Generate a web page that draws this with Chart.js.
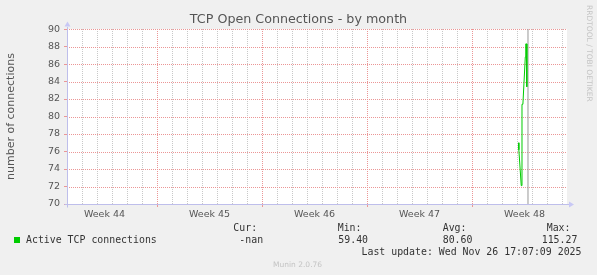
<!DOCTYPE html>
<html>
<head>
<meta charset="utf-8">
<script src="https://cdn.jsdelivr.net/npm/chart.js@4.4.0/dist/chart.umd.min.js"></script>
<style>
  html, body { margin: 0; padding: 0; background: #f0f0f0; }
  #wrap { position: relative; width: 597px; height: 275px; overflow: hidden; }
  #chart { position: absolute; left: 0; top: 0; }
  .mono { position: absolute; white-space: pre; font-family: "DejaVu Sans Mono", monospace; font-size: 9.9px; line-height: 12px; color: #333; }
  .faint { position: absolute; white-space: pre; font-family: "DejaVu Sans", sans-serif; font-size: 7.5px; line-height: 9px; color: #c4c4c4; }
  #rrd { writing-mode: vertical-rl; left: 585px; top: 5px; }
  #swatch { position: absolute; left: 14px; top: 237px; width: 6px; height: 6px; background: #00cc00; }
</style>
</head>
<body>
<div id="wrap">
  <canvas id="chart" width="597" height="275"></canvas>
  <div id="swatch"></div>
  <div class="mono" style="left:26px; top:234px;">Active TCP connections</div>
  <div id="stats"></div>
  <div class="mono" style="left:361.5px; top:246px;">Last update: Wed Nov 26 17:07:09 2025</div>
  <div class="faint" style="left:273px; top:259.5px;">Munin 2.0.76</div>
  <div class="faint" id="rrd">RRDTOOL / TOBI OETIKER</div>
</div>
<script>
// x values are days counted from the left edge of the graph
const weekLabels = ["Week 44", "Week 45", "Week 46", "Week 47", "Week 48"];
const weekCenters = [2.5, 9.5, 16.5, 23.5, 30.5];
const weekStarts = [6, 13, 20, 27];
const xMax = 33.33;

const connDays = [30.11, 30.12, 30.28, 30.33, 30.39, 30.55, 30.58, 30.65, 30.65];
const connValues = [77.0, 76.2, 72.1, 81.4, 81.4, 86.8, 88.3, 88.3, 83.4];
const nowDay = 30.73;

const yMin = 70;
const yMax = 90;

const statLabels = ["Cur:", "Min:", "Avg:", "Max:"];
const statValues = ["-nan", "59.40", "80.60", "115.27"];
const statLabelX = [233.3, 337.7, 442.7, 546.7];
const statValueX = [239.3, 338.3, 442.7, 541.7];

const stats = document.getElementById("stats");
statLabels.forEach((s, i) => {
  stats.innerHTML += '<div class="mono" style="left:' + statLabelX[i] + 'px; top:221.7px;">' + s + '</div>';
  stats.innerHTML += '<div class="mono" style="left:' + statValueX[i] + 'px; top:234px;">' + statValues[i] + '</div>';
});

const majorColor = "rgb(235,150,150)";
const minorColor = "rgb(200,200,200)";
const axisColor = "rgb(190,190,235)";
const labelFont = { family: "DejaVu Sans", size: 9.5 };

const isMajorX = (v) => weekStarts.includes(v);
const isMajorY = (v) => v % 2 === 0;

// white plot area, dotted rrdtool style grid from the scale ticks, axis lines with arrows
const frame = {
  id: "frame",
  beforeDraw(chart) {
    const { ctx, chartArea: a } = chart;
    ctx.save();
    ctx.fillStyle = "#f0f0f0";
    ctx.fillRect(0, 0, chart.width, chart.height);
    ctx.fillStyle = "#ffffff";
    ctx.fillRect(a.left, a.top, a.right - a.left, a.bottom - a.top);
    ctx.restore();
  },
  beforeDatasetsDraw(chart) {
    const { ctx, chartArea: a, scales } = chart;
    const xs = scales.x, ys = scales.y;
    const xv = xs.ticks.map((t) => t.value).filter((v) => v > 0 && Number.isInteger(v));
    const yv = ys.ticks.map((t) => t.value).filter((v) => v > yMin);
    const top = Math.round(a.top), bottom = Math.round(a.bottom);
    const left = Math.round(a.left), right = Math.round(a.right);
    ctx.save();
    // one pixel dots every 2px, like rrdtool's grid
    [false, true].forEach((major) => {
      ctx.fillStyle = major ? majorColor : minorColor;
      xv.filter((v) => isMajorX(v) === major).forEach((v) => {
        const px = Math.round(xs.getPixelForValue(v));
        for (let y = top; y < bottom; y += 2) ctx.fillRect(px, y, 1, 1);
      });
      yv.filter((v) => isMajorY(v) === major).forEach((v) => {
        const py = Math.round(ys.getPixelForValue(v));
        for (let x = left; x < right; x += 2) ctx.fillRect(x, py, 1, 1);
      });
    });
    ctx.restore();
  },
  afterDraw(chart) {
    const { ctx, chartArea: a } = chart;
    const x0 = Math.round(a.left) + 0.5;
    const y0 = Math.round(a.bottom) + 0.5;
    ctx.save();
    ctx.strokeStyle = axisColor;
    ctx.lineWidth = 1;
    ctx.beginPath();
    ctx.moveTo(x0 - 3, y0);
    ctx.lineTo(a.right + 2, y0);
    ctx.moveTo(x0, y0 + 3);
    ctx.lineTo(x0, a.top - 2);
    ctx.stroke();
    ctx.fillStyle = "rgb(200,200,245)";
    ctx.beginPath();
    ctx.moveTo(x0, a.top - 7.5);
    ctx.lineTo(x0 - 3, a.top - 2.5);
    ctx.lineTo(x0 + 3, a.top - 2.5);
    ctx.fill();
    ctx.beginPath();
    ctx.moveTo(a.right + 7, y0);
    ctx.lineTo(a.right + 2, y0 - 3);
    ctx.lineTo(a.right + 2, y0 + 3);
    ctx.fill();
    ctx.restore();
  }
};

const points = connDays.map((d, i) => ({ x: d, y: connValues[i] }));

new Chart(document.getElementById("chart"), {
  type: "line",
  data: {
    datasets: [
      {
        data: points,
        borderColor: "#00cc00",
        borderWidth: 1,
        pointRadius: 0,
        tension: 0
      },
      {
        data: [{ x: nowDay, y: yMin }, { x: nowDay, y: yMax }],
        borderColor: "#999999",
        borderWidth: 1,
        pointRadius: 0
      }
    ]
  },
  options: {
    responsive: false,
    animation: false,
    events: [],
    layout: { padding: { left: 0, right: 0, top: 0, bottom: 51 } },
    plugins: {
      legend: { display: false },
      tooltip: { enabled: false },
      title: {
        display: true,
        text: "TCP Open Connections - by month",
        color: "#555",
        font: { family: "DejaVu Sans", size: 12.7, weight: "normal" },
        padding: { top: 12, bottom: 1.8 }
      }
    },
    scales: {
      x: {
        type: "linear",
        min: 0,
        max: xMax,
        afterBuildTicks: (scale) => {
          const vals = [];
          for (let d = 0; d <= 33; d++) vals.push(d);
          weekCenters.forEach((c) => vals.push(c));
          vals.sort((a, b) => a - b);
          scale.ticks = vals.map((v) => ({ value: v }));
        },
        afterFit: (scale) => { scale.height = 20; },
        ticks: {
          autoSkip: false,
          maxRotation: 0,
          padding: 2,
          color: "#555",
          font: labelFont,
          callback: (v) => {
            const i = weekCenters.indexOf(v);
            return i >= 0 ? weekLabels[i] : "";
          }
        },
        grid: {
          drawOnChartArea: false,
          drawTicks: true,
          tickLength: 3,
          tickColor: (ctx) => (isMajorX(ctx.tick.value) ? majorColor : "transparent")
        },
        border: { display: false }
      },
      y: {
        min: yMin,
        max: yMax,
        afterFit: (scale) => { scale.width = 67; },
        ticks: {
          stepSize: 1,
          padding: 4,
          color: "#555",
          font: labelFont,
          callback: (v) => (isMajorY(v) ? v : "")
        },
        grid: {
          drawOnChartArea: false,
          drawTicks: true,
          tickLength: 3,
          tickColor: (ctx) => (isMajorY(ctx.tick.value) ? majorColor : "transparent")
        },
        border: { display: false },
        title: {
          display: true,
          text: "number of connections",
          color: "#555",
          font: { family: "DejaVu Sans", size: 11 },
          padding: { top: 5, bottom: 0 }
        }
      },
      // empty right-hand axis keeps the 30px margin without shifting the title
      yr: {
        position: "right",
        min: yMin,
        max: yMax,
        afterFit: (scale) => { scale.width = 30; },
        ticks: { display: false },
        grid: { display: false, drawOnChartArea: false },
        border: { display: false }
      }
    }
  },
  plugins: [frame]
});
</script>
</body>
</html>
